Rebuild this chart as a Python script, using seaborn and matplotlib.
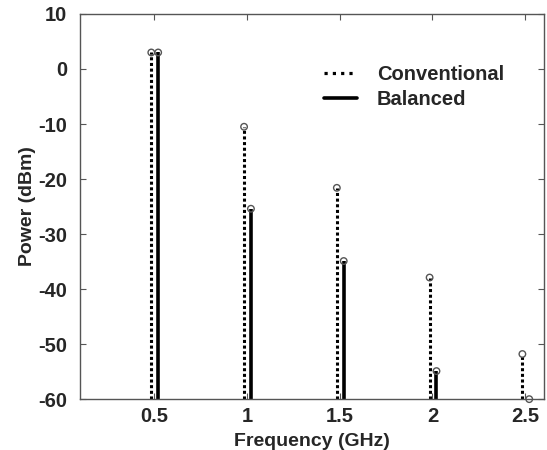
import numpy as np
import pandas as pd
import matplotlib
matplotlib.use("Agg")
import matplotlib.pyplot as plt
import seaborn as sns
from matplotlib.lines import Line2D

# data
freqs = [0.5, 1.0, 1.5, 2.0, 2.5]
conventional = [3.0, -10.5, -21.6, -37.9, -51.8]
balanced = [3.0, -25.4, -34.9, -54.9, -60.0]
x_ticks = [0.5, 1, 1.5, 2, 2.5]
x_ticklabels = ["0.5", "1", "1.5", "2", "2.5"]
y_ticks = [10, 0, -10, -20, -30, -40, -50, -60]

sns.set_style("ticks")
plt.rcParams["font.family"] = ["Liberation Sans", "DejaVu Sans"]
plt.rcParams["font.weight"] = "bold"
plt.rcParams["axes.unicode_minus"] = False

conv_x = np.array(freqs) - 0.015
bal_x = np.array(freqs) + 0.022
df = pd.DataFrame({
    "freq": np.concatenate([conv_x, bal_x]),
    "power": conventional + balanced,
    "kind": ["Conventional"] * len(freqs) + ["Balanced"] * len(freqs),
})

fig = plt.figure(figsize=(5.47, 4.5), dpi=100)
ax = fig.add_axes([0.146, 0.113, 0.848, 0.856])

base = -60
dots = (0, (1, 0.85))
ax.vlines(conv_x, base, conventional, colors="black", linewidth=2.2,
          linestyles=[dots])
ax.vlines(bal_x, base, balanced, colors="black", linewidth=2.6)
sns.scatterplot(data=df, x="freq", y="power", ax=ax, marker="o", s=22,
                facecolor="none", edgecolor="#555555", linewidth=1.0,
                legend=False, zorder=3, clip_on=False)

ax.set_xlim(0.1, 2.6)
ax.set_ylim(-60, 10)
ax.set_xticks(x_ticks)
ax.set_xticklabels(x_ticklabels)
ax.set_yticks(y_ticks)
ax.tick_params(direction="in", length=4, width=0.8, color="#555555",
               top=True, right=True, labelsize=14.5)
ax.tick_params(axis="y", pad=9)
ax.tick_params(axis="x", pad=6)
for lab in ax.get_xticklabels() + ax.get_yticklabels():
    lab.set_fontweight("bold")
for sp in ax.spines.values():
    sp.set_color("#555555")
    sp.set_linewidth(1.0)

ax.set_xlabel("Frequency (GHz)", fontsize=14, fontweight="bold", labelpad=5)
ax.set_ylabel("Power (dBm)", fontsize=14, fontweight="bold", labelpad=2)

handles = [
    Line2D([], [], color="black", linewidth=2.3, linestyle=(0, (1, 1.6))),
    Line2D([], [], color="black", linewidth=2.6),
]
ax.legend(handles, ["Conventional", "Balanced"], loc="upper left",
          bbox_to_anchor=(0.488, 0.914), frameon=False, handlelength=1.6,
          handletextpad=1.0, labelspacing=0.3,
          prop={"size": 14.5, "weight": "bold"})

fig.savefig("out.png", dpi=100)
